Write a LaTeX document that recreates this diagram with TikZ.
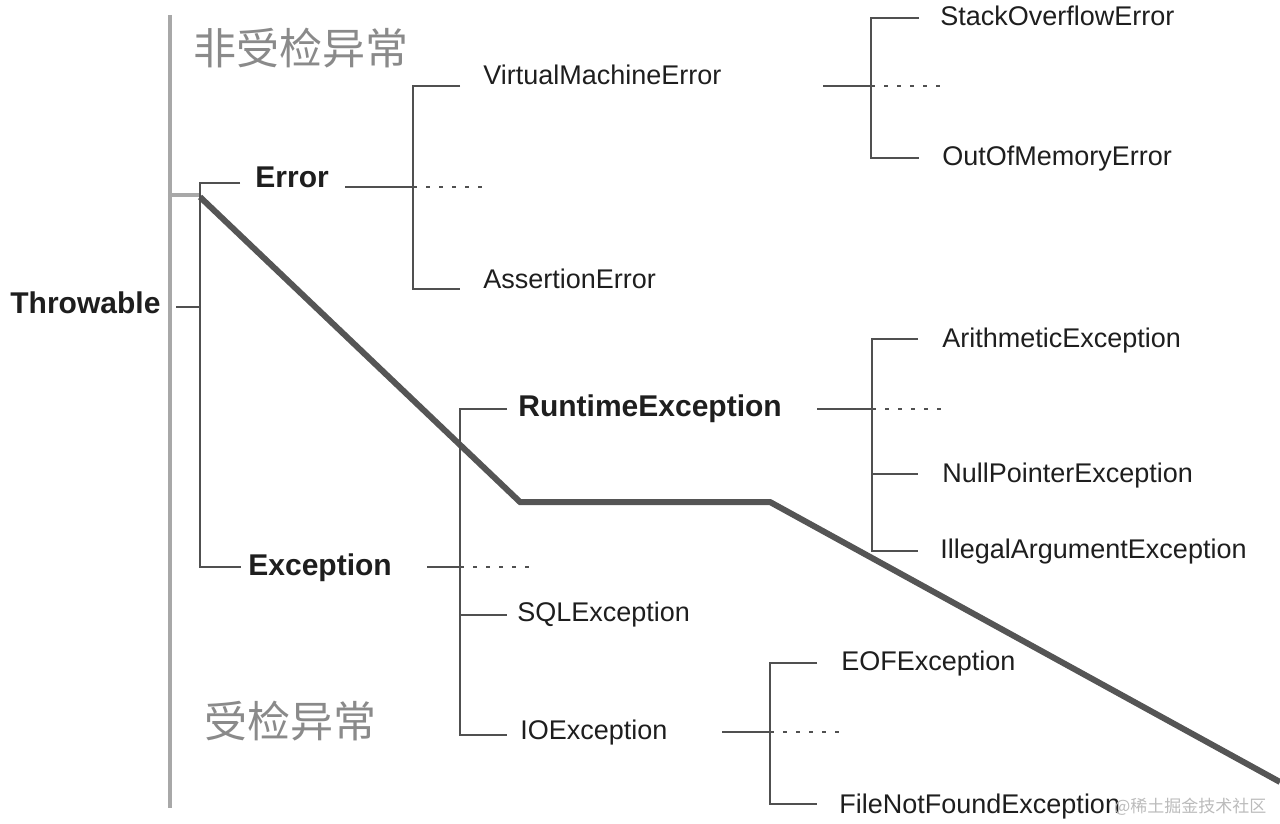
\documentclass[tikz,border=0pt]{standalone}
\usepackage{fontspec}
\setmainfont{Liberation Sans}
\newfontfamily\cjk{Noto Sans CJK SC}
\usetikzlibrary{positioning}

\definecolor{inkgray}{HTML}{1E1E1E}
\definecolor{linegray}{HTML}{505050}
\definecolor{spinegray}{HTML}{A8A8A8}
\definecolor{divgray}{HTML}{555555}
\definecolor{zonegray}{HTML}{8A8A8A}
\definecolor{markgray}{HTML}{BBBBBB}

\tikzset{
  cls/.style={font=\fontsize{13.5}{16}\selectfont, text=inkgray},
  kind/.style={font=\bfseries\fontsize{15}{18}\selectfont, text=inkgray},
  zone/.style={font=\cjk\fontsize{21.5}{24}\selectfont, text=zonegray},
  branch/.style={line width=0.9pt, draw=linegray},
  etc/.style={line width=1pt, draw=linegray, dash pattern=on 2pt off 4.5pt},
  spine/.style={line width=2pt, draw=spinegray},
  divide/.style={line width=3pt, draw=divgray, line join=miter},
}

\begin{document}
\begin{tikzpicture}
[x=0.5pt, y=-0.5pt, every node/.style={inner sep=0pt, anchor=base west}]
\useasboundingbox (0,0) rectangle (1280,824);
% class names
\node (throwable) [kind] at (10,313) {Throwable};
\node (error) [kind] at (255,187) {Error};
\node (exception) [kind] at (248,575) {Exception};
\node (vme) [cls] at (483,85) {VirtualMachineError};
\node (assertion) [cls] at (483,288) {AssertionError};
\node (stack) [cls] at (940,26) {StackOverflowError};
\node (oom) [cls] at (942,165) {OutOfMemoryError};
\node (runtime) [kind] at (518,416) {RuntimeException};
\node (sql) [cls] at (517,621) {SQLException};
\node (io) [cls] at (520,739) {IOException};
\node (arith) [cls] at (942,347) {ArithmeticException};
\node (npe) [cls] at (942,482) {NullPointerException};
\node (iae) [cls] at (940,558) {IllegalArgumentException};
\node (eof) [cls] at (841,670) {EOFException};
\node (fnf) [cls] at (839,813) {FileNotFoundException};
\node (unchecked) [zone] at (193,65) {非受检异常};
\node (checked) [zone] at (204,737) {受检异常};
\node (mark) [font=\cjk\fontsize{8.5}{10}\selectfont, text=markgray] at (1114,812) {@稀土掘金技术社区};
% spine and divider
\draw [spine] (170,15) -- (170,808);
\draw [spine] (170,195) -- (200,195);
\draw [divide] (200,197) -- (520,502) -- (770,502) -- (1280,782);
% Throwable
\coordinate (tw-in) at (176,307);
\coordinate (tw-j) at (200,307);
\coordinate (tw-top) at (200,183);
\coordinate (tw-bot) at (200,567);
\coordinate (tw-err) at (240,183);
\coordinate (tw-exc) at (241,567);
\draw [branch] (tw-in) -- (tw-j);
\draw [branch] (tw-err) -- (tw-top) -- (tw-bot) -- (tw-exc);
% Error
\coordinate (er-out) at (345,187);
\coordinate (er-j) at (413,187);
\coordinate (er-dots) at (483,187);
\coordinate (er-top) at (413,86);
\coordinate (er-bot) at (413,289);
\coordinate (er-vme) at (460,86);
\coordinate (er-as) at (460,289);
\draw [branch] (er-out) -- (er-j);
\draw [etc] (er-j) -- (er-dots);
\draw [branch] (er-vme) -- (er-top) -- (er-bot) -- (er-as);
% VirtualMachineError
\coordinate (vm-out) at (823,86);
\coordinate (vm-j) at (871,86);
\coordinate (vm-dots) at (945,86);
\coordinate (vm-top) at (871,18);
\coordinate (vm-bot) at (871,158);
\coordinate (vm-so) at (919,18);
\coordinate (vm-oom) at (919,158);
\draw [branch] (vm-out) -- (vm-j);
\draw [etc] (vm-j) -- (vm-dots);
\draw [branch] (vm-so) -- (vm-top) -- (vm-bot) -- (vm-oom);
% Exception
\coordinate (ex-out) at (427,567);
\coordinate (ex-j) at (460,567);
\coordinate (ex-dots) at (532,567);
\coordinate (ex-top) at (460,409);
\coordinate (ex-bot) at (460,735);
\coordinate (ex-rt) at (507,409);
\coordinate (ex-sql-j) at (460,615);
\coordinate (ex-sql) at (507,615);
\coordinate (ex-io) at (507,735);
\draw [branch] (ex-out) -- (ex-j);
\draw [etc] (ex-j) -- (ex-dots);
\draw [branch] (ex-rt) -- (ex-top) -- (ex-bot) -- (ex-io);
\draw [branch] (ex-sql-j) -- (ex-sql);
% RuntimeException
\coordinate (rt-out) at (817,409);
\coordinate (rt-j) at (872,409);
\coordinate (rt-dots) at (945,409);
\coordinate (rt-top) at (872,339);
\coordinate (rt-bot) at (872,551);
\coordinate (rt-ar) at (918,339);
\coordinate (rt-np-j) at (872,474);
\coordinate (rt-np) at (918,474);
\coordinate (rt-ia) at (918,551);
\draw [branch] (rt-out) -- (rt-j);
\draw [etc] (rt-j) -- (rt-dots);
\draw [branch] (rt-ar) -- (rt-top) -- (rt-bot) -- (rt-ia);
\draw [branch] (rt-np-j) -- (rt-np);
% IOException
\coordinate (io-out) at (722,732);
\coordinate (io-j) at (770,732);
\coordinate (io-dots) at (843,732);
\coordinate (io-top) at (770,663);
\coordinate (io-bot) at (770,804);
\coordinate (io-eof) at (817,663);
\coordinate (io-fnf) at (817,804);
\draw [branch] (io-out) -- (io-j);
\draw [etc] (io-j) -- (io-dots);
\draw [branch] (io-eof) -- (io-top) -- (io-bot) -- (io-fnf);
\end{tikzpicture}
\end{document}
